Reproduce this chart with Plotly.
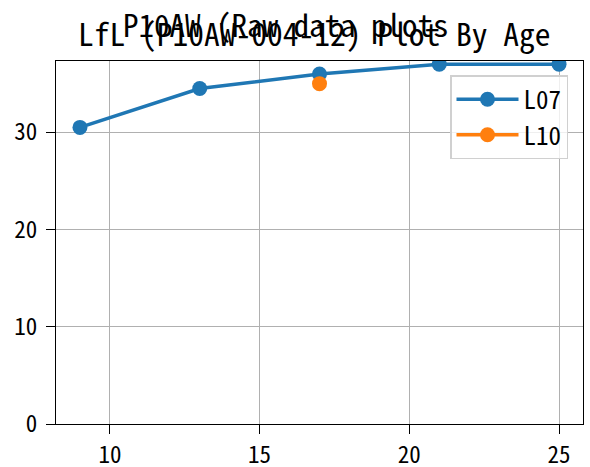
import plotly.graph_objects as go

ages_l07 = [9, 13, 17, 21, 25]
vals_l07 = [30.5, 34.5, 36.0, 37.0, 37.0]
ages_l10 = [17]
vals_l10 = [35.0]
x_ticks = [10, 15, 20, 25]
y_ticks = [0, 10, 20, 30]

FONT = "Noto Sans Mono CJK JP, DejaVu Sans Mono, monospace"

L, R, T, B = 56, 583, 61, 424
W, H = 590, 467
pw, ph = R - L, B - T

fig = go.Figure()
fig.add_trace(go.Scatter(x=ages_l07, y=vals_l07, mode="lines+markers", name="L07",
                         line=dict(color="#1f77b4", width=3.5),
                         marker=dict(size=15, color="#1f77b4")))
fig.add_trace(go.Scatter(x=ages_l10, y=vals_l10, mode="lines+markers", name="L10",
                         line=dict(color="#ff7f0e", width=3.5),
                         marker=dict(size=15, color="#ff7f0e")))

fig.update_layout(
    width=W, height=H,
    margin=dict(l=L, r=W - R, t=T, b=H - B, autoexpand=False),
    paper_bgcolor="white", plot_bgcolor="white",
    font=dict(family=FONT, size=23, color="black"),
    showlegend=True,
    legend=dict(x=(568 - L) / pw, y=1 - (75 - T) / ph, xanchor="right", yanchor="top",
                bgcolor="rgba(255,255,255,0.8)", bordercolor="#d0d0d0", borderwidth=1.5,
                font=dict(size=25), itemwidth=62),
    annotations=[
        dict(text="P10AW (Raw data plots", x=(286 - L) / pw, y=1 + (T - 23) / ph,
             xref="paper", yref="paper", showarrow=False, font=dict(size=31),
             xanchor="center", yanchor="middle"),
        dict(text="LfL (P10AW-004-12) Plot By Age", x=(314 - L) / pw, y=1 + (T - 32) / ph,
             xref="paper", yref="paper", showarrow=False, font=dict(size=31.5),
             xanchor="center", yanchor="middle"),
    ],
)

fig.update_xaxes(range=[8.2, 25.8], tickvals=x_ticks, showgrid=True, gridcolor="#b0b0b0", gridwidth=1.3,
                 showline=True, linecolor="black", linewidth=1.3, mirror=True, automargin=False,
                 ticks="outside", ticklen=9, tickwidth=1.3, tickcolor="black", zeroline=False,
                 ticklabelstandoff=1)
fig.update_yaxes(range=[0, 37.33], tickvals=y_ticks, showgrid=True, gridcolor="#b0b0b0", gridwidth=1.3,
                 showline=True, linecolor="black", linewidth=1.3, mirror=True, automargin=False,
                 ticks="outside", ticklen=9, tickwidth=1.3, tickcolor="black", zeroline=False,
                 ticklabelstandoff=4)

fig.write_html("out.html", config={"displayModeBar": False},
               post_script="document.body.style.margin='0';")
